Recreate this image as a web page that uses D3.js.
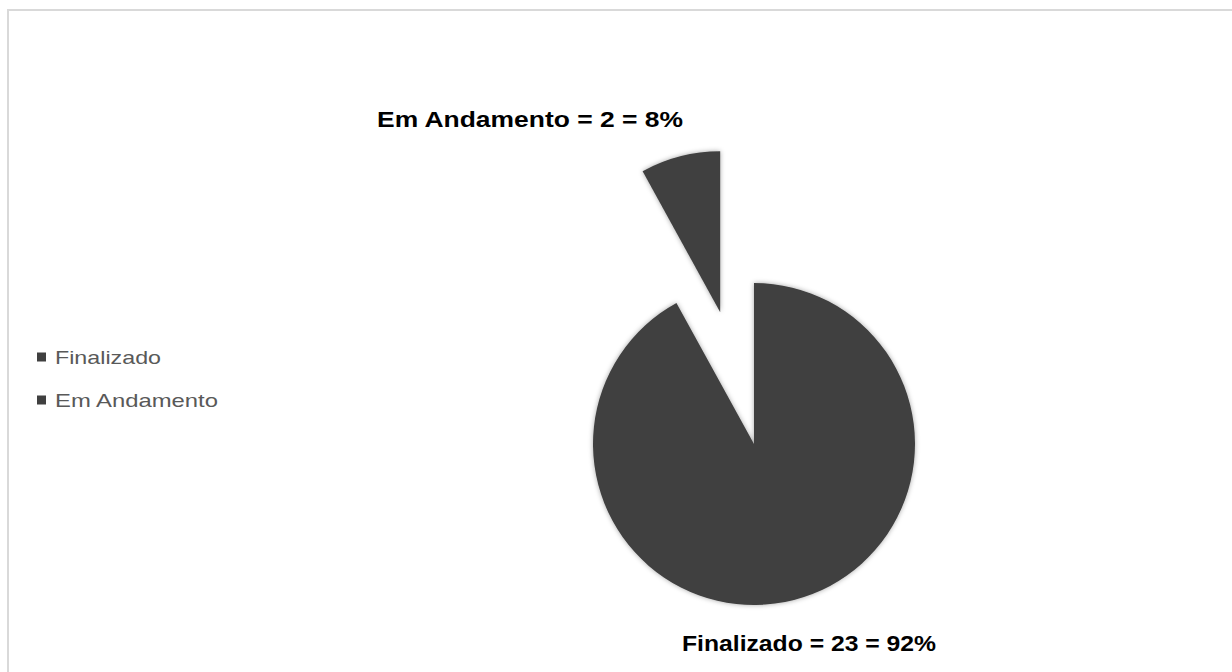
<!DOCTYPE html>
<html><head><meta charset="utf-8">
<script src="https://cdn.jsdelivr.net/npm/d3@7"></script>
<style>html,body{margin:0;padding:0;background:#fff;}svg{display:block;}</style>
</head><body>
<svg id="chart" width="1232" height="672"></svg>
<script>
const categories = ["Finalizado", "Em Andamento"];
const values = [23, 2];
const percents = ["92%", "8%"];
const explode = [0, 136];

const svg = d3.select("#chart");
const cx = 754, cy = 444, R = 161;

// chart border
svg.append("rect").attr("x", 8).attr("y", 10).attr("width", 1240).attr("height", 700)
  .attr("fill", "#fff").attr("stroke", "#d9d9d9").attr("stroke-width", 2);

const defs = svg.append("defs");
const f = defs.append("filter").attr("id", "sh").attr("x", "-20%").attr("y", "-20%").attr("width", "140%").attr("height", "140%");
f.append("feDropShadow").attr("dx", 0).attr("dy", 0).attr("stdDeviation", 2.5).attr("flood-color", "#000").attr("flood-opacity", 0.35);

const pie = d3.pie().sort(null).value(d => d)(values);
const arc = d3.arc().innerRadius(0).outerRadius(R);
const color = d3.scaleOrdinal().domain(categories).range(["#404040", "#404040"]);

const g = svg.append("g").attr("transform", `translate(${cx},${cy})`);
g.selectAll("path").data(pie).join("path")
  .attr("d", arc)
  .attr("fill", (d, i) => color(categories[i]))
  .attr("filter", "url(#sh)")
  .attr("transform", (d, i) => {
    const a = (d.startAngle + d.endAngle) / 2;
    return `translate(${Math.sin(a) * explode[i]},${-Math.cos(a) * explode[i]})`;
  });

// data labels
const labelPos = [[809, 651], [530, 127]];
const labelLen = [254, 306];
svg.selectAll("text.lbl").data(pie).join("text").attr("class", "lbl")
  .attr("x", (d, i) => labelPos[i][0] - labelLen[i] / 2).attr("y", (d, i) => labelPos[i][1])
  .attr("font-family", "Liberation Sans, Arial, sans-serif")
  .attr("font-weight", "bold").attr("font-size", 22).attr("fill", "#000")
  .attr("textLength", (d, i) => labelLen[i]).attr("lengthAdjust", "spacingAndGlyphs")
  .text((d, i) => `${categories[i]} = ${values[i]} = ${percents[i]}`);

// legend
const legLen = [106, 163];
const leg = svg.append("g");
categories.forEach((c, i) => {
  const y = 357 + i * 43;
  leg.append("rect").attr("x", 37).attr("y", y - 4.5).attr("width", 9).attr("height", 9).attr("fill", color(c));
  leg.append("text").attr("x", 55).attr("y", y + 7)
    .attr("font-family", "Liberation Sans, Arial, sans-serif")
    .attr("font-size", 19).attr("fill", "#595959")
    .attr("textLength", legLen[i]).attr("lengthAdjust", "spacingAndGlyphs").text(c);
});
</script>
</body></html>
